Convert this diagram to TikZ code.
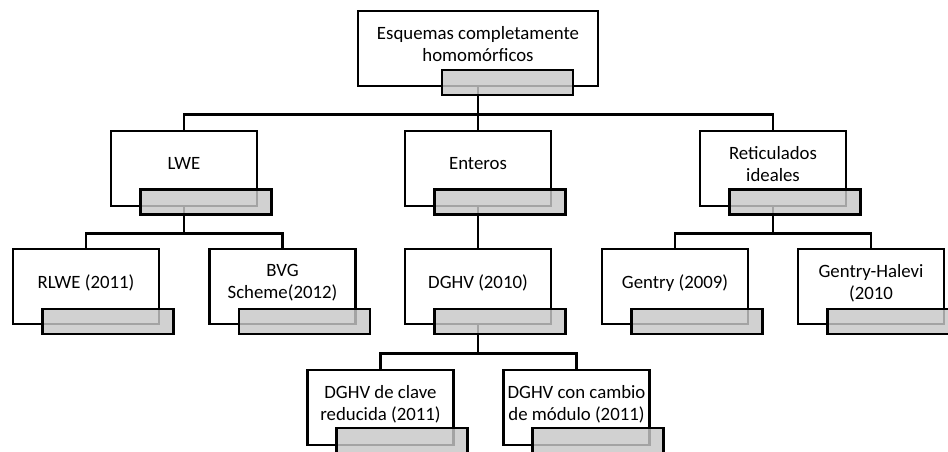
\documentclass[tikz,border=0pt]{standalone}
\usepackage{fontspec}
\setmainfont{Carlito}

\tikzset{
  whitebox/.style = {draw, fill = white, line width = 2.5pt, minimum width = 146pt,
    minimum height = 75pt, align = center, text depth = 10pt,
    font = \fontsize{18.8}{22}\selectfont},
  graybox/.style = {draw, fill = black!22, fill opacity = 0.82, line width = 2.5pt,
    minimum width = 131pt, minimum height = 25pt},
  link/.style = {line width = 2.5pt}
}

\begin{document}
\begin{tikzpicture}[x = 1pt, y = -1pt]
    \clip (0, 0) rectangle (948, 452);
    % boxes
    \node[whitebox, minimum width = 240pt] (Esquemas) at (478, 48.5) {Esquemas completamente\\homomórficos};
    \node[whitebox] (LWE) at (184, 168.5) {LWE};
    \node[whitebox] (Enteros) at (478, 168.5) {Enteros};
    \node[whitebox] (Reticulados) at (773, 168.5) {Reticulados\\ideales};
    \node[whitebox] (RLWE) at (86, 286.5) {RLWE (2011)};
    \node[whitebox] (BVG) at (282.5, 286.5) {BVG\\Scheme(2012)};
    \node[whitebox] (DGHV) at (478, 286.5) {DGHV (2010)};
    \node[whitebox] (Gentry) at (675, 286.5) {Gentry (2009)};
    \node[whitebox] (Gentry-Halevi) at (871, 286.5) {Gentry-Halevi\\(2010};
    \node[whitebox] (DGHV Clave) at (380.5, 407.5) {DGHV de clave\\reducida (2011)};
    \node[whitebox] (DGHV Cambio) at (576.5, 407.5) {DGHV con cambio\\de módulo (2011)};
    % connectors
    \draw[link] (Esquemas.south) -- ++(0, 27) -| (LWE.north);
    \draw[link] (Esquemas.south) -- (Enteros.north);
    \draw[link] (Esquemas.south) -- ++(0, 27) -| (Reticulados.north);
    \draw[link] (LWE.south) -- ++(0, 26) -| (RLWE.north);
    \draw[link] (LWE.south) -- ++(0, 26) -| (BVG.north);
    \draw[link] (Enteros.south) -- (DGHV.north);
    \draw[link] (Reticulados.south) -- ++(0, 26) -| (Gentry.north);
    \draw[link] (Reticulados.south) -- ++(0, 26) -| (Gentry-Halevi.north);
    \draw[link] (DGHV.south) -- ++(0, 28) -| (DGHV Clave.north);
    \draw[link] (DGHV.south) -- ++(0, 28) -| (DGHV Cambio.north);
    % gray tabs
    \node[graybox] (Esquemas Tab) at (507.5, 82.5) {};
    \node[graybox] (LWE Tab) at (206, 202) {};
    \node[graybox] (Enteros Tab) at (500, 202) {};
    \node[graybox] (Reticulados Tab) at (795, 202) {};
    \node[graybox] (RLWE Tab) at (108, 321.5) {};
    \node[graybox] (BVG Tab) at (304.5, 321.5) {};
    \node[graybox] (DGHV Tab) at (500, 321.5) {};
    \node[graybox] (Gentry Tab) at (697, 321.5) {};
    \node[graybox] (Gentry-Halevi Tab) at (893, 321.5) {};
    \node[graybox] (DGHV Clave Tab) at (402, 440.5) {};
    \node[graybox] (DGHV Cambio Tab) at (598, 440.5) {};
\end{tikzpicture}
\end{document}
